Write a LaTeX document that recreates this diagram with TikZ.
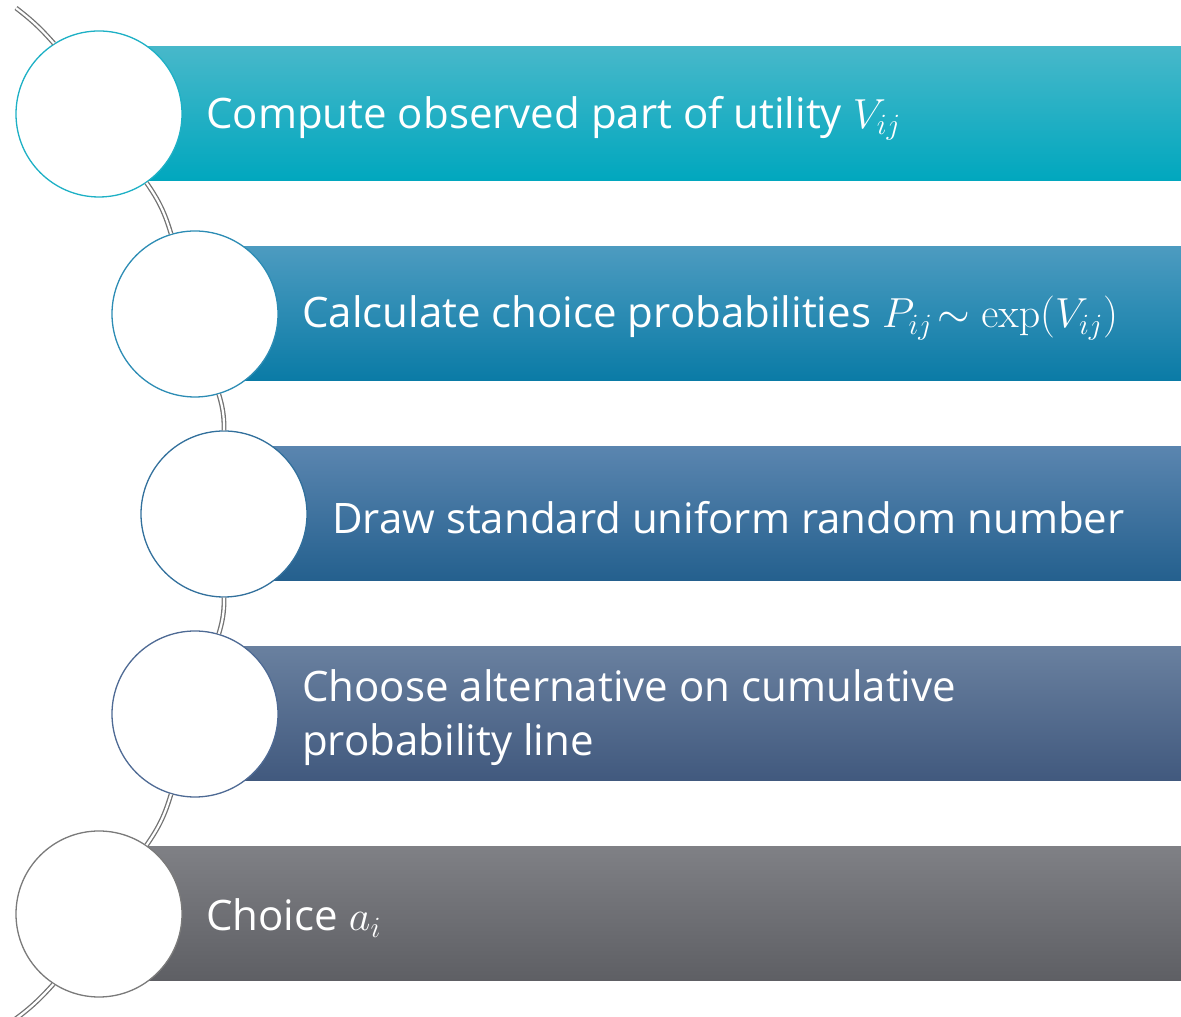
\RequirePackage{fix-cm}
\documentclass[tikz,border=0pt]{standalone}
\usepackage[no-math]{fontspec}
\setmainfont{Open Sans}
\definecolor{tealtop}{HTML}{47B8CA}
\definecolor{tealmid}{HTML}{00B3C7}
\definecolor{tealbot}{HTML}{00A7BE}
\definecolor{cyantop}{HTML}{4C9BC0}
\definecolor{cyanmid}{HTML}{1C8CB7}
\definecolor{cyanbot}{HTML}{0A7BA6}
\definecolor{bluetop}{HTML}{5A85AF}
\definecolor{bluemid}{HTML}{3A72A0}
\definecolor{bluebot}{HTML}{24608E}
\definecolor{slatetop}{HTML}{69809F}
\definecolor{slatemid}{HTML}{526B8E}
\definecolor{slatebot}{HTML}{41597E}
\definecolor{greytop}{HTML}{7F8085}
\definecolor{greymid}{HTML}{6E6F74}
\definecolor{greybot}{HTML}{5E5F64}
\definecolor{rimone}{HTML}{1DB0C5}
\definecolor{rimtwo}{HTML}{2C8CB4}
\definecolor{rimthree}{HTML}{32709C}
\definecolor{rimfour}{HTML}{4E6A94}
\definecolor{rimfive}{HTML}{7A7A7A}
\tikzset{
  bar/.style={rectangle, anchor=west, minimum height=134pt, inner sep=0pt},
  disc/.style={circle, fill=white, line width=1.3pt, minimum size=166pt, inner sep=0pt},
  label/.style={anchor=west, text=white, inner sep=0pt, align=left,
    font=\fontsize{42}{54}\selectfont},
  rail/.style={draw=black!55, line width=1.3pt, double=white, double distance=2.2pt}
}
\begin{document}
\begin{tikzpicture}[x=1pt, y=1pt]
  \useasboundingbox (0,0) rectangle (1181,1017);
  % bars
  \node[bar, minimum width=1082pt, top color=tealtop, middle color=tealmid, bottom color=tealbot] (b1) at (99,903) {};
  \node[bar, minimum width=986pt, top color=cyantop, middle color=cyanmid, bottom color=cyanbot] (b2) at (195,703) {};
  \node[bar, minimum width=957pt, top color=bluetop, middle color=bluemid, bottom color=bluebot] (b3) at (224,503) {};
  \node[bar, minimum width=986pt, top color=slatetop, middle color=slatemid, bottom color=slatebot] (b4) at (195,303) {};
  \node[bar, minimum width=1082pt, top color=greytop, middle color=greymid, bottom color=greybot] (b5) at (99,103) {};
  % circles
  \node[disc, draw=rimone] (c1) at (99,903) {};
  \node[disc, draw=rimtwo] (c2) at (195,703) {};
  \node[disc, draw=rimthree] (c3) at (224,503) {};
  \node[disc, draw=rimfour] (c4) at (195,303) {};
  \node[disc, draw=rimfive] (c5) at (99,103) {};
  \coordinate (top) at (16,1009);
  \coordinate (bottom) at (10,-6);
  % rail
  \draw[rail] (top) to[bend left=5.5] (c1);
  \draw[rail] (c1) to[bend left=9] (c2);
  \draw[rail] (c2) to[bend left=8.3] (c3);
  \draw[rail] (c3) to[bend left=8.3] (c4);
  \draw[rail] (c4) to[bend left=9] (c5);
  \draw[rail] (c5) to[bend left=6.2] (bottom);
  % texts
  \node[label] (t1) at (206,899) {Compute observed part of utility $V_{ij}$};
  \node[label] (t2) at (302,699) {Calculate choice probabilities $P_{ij}\!\sim \exp(V_{ij})$};
  \node[label] (t3) at (332,499) {Draw standard uniform random number};
  \node[label] (t4) at (302,299) {Choose alternative on cumulative\\probability line};
  \node[label] (t5) at (206,99) {Choice $a_i$};
\end{tikzpicture}
\end{document}
